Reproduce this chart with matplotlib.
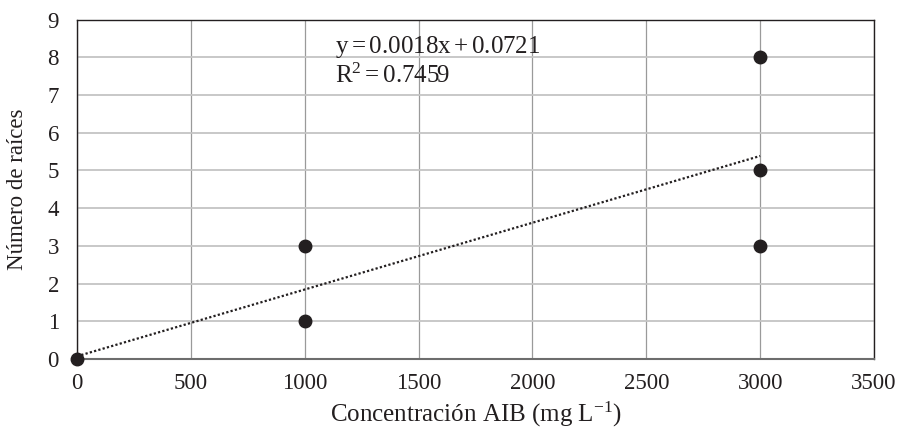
import matplotlib
matplotlib.use("Agg")
import matplotlib.pyplot as plt
import numpy as np

conc = [0, 1000, 1000, 3000, 3000, 3000]
roots = [0, 3, 1, 8, 5, 3]
trend_slope = 0.00177
trend_intercept = 0.0721
trend_x = [0, 3000]
eq_text = r"$\mathrm{y=0.0018x+0.0721}$"
r2_text = r"$\mathrm{R^{2}=0.7459}$"
x_ticks = [0, 500, 1000, 1500, 2000, 2500, 3000, 3500]
y_ticks = list(range(0, 10))

plt.rcParams['font.family'] = ['Liberation Serif', 'DejaVu Serif']
plt.rcParams['mathtext.fontset'] = 'custom'
plt.rcParams['mathtext.rm'] = 'Liberation Serif'
plt.rcParams['mathtext.it'] = 'Liberation Serif:italic'

fig = plt.figure(figsize=(8.97, 4.28), dpi=100)
ax = fig.add_axes([77/897, 1-359/428, (874-77)/897, (359-19.5)/428])

ax.set_xlim(0, 3500)
ax.set_ylim(0, 9)
ax.set_xticks(x_ticks)
ax.set_yticks(y_ticks)
ax.tick_params(length=0, labelsize=16.5, colors='#231f20')
ax.tick_params(axis='x', pad=10)
ax.tick_params(axis='y', pad=13)

ax.xaxis.grid(True, color='#9a9a9a', lw=0.9)
ax.yaxis.grid(True, color='#c4c4c4', lw=1.3)
ax.set_axisbelow(True)
for s in ax.spines.values():
    s.set_color('#231f20')
    s.set_linewidth(1.0)
ax.spines['bottom'].set_color('#6d6d6d')
ax.spines['bottom'].set_linewidth(1.5)

tx = np.array(trend_x, dtype=float)
ax.plot(tx, trend_slope * tx + trend_intercept, ls=(0, (1, 1)), color='#231f20', lw=1.6, zorder=3)
ax.plot(conc, roots, 'o', color='#231f20', ms=9, zorder=4, clip_on=False)

ax.text(335/897, 1-47/428, eq_text, transform=fig.transFigure, fontsize=18,
        color='#231f20', va='center', ha='left')
ax.text(335/897, 1-76/428, r2_text, transform=fig.transFigure, fontsize=18,
        color='#231f20', va='center', ha='left')

ax.set_xlabel("Concentración AIB (mg L$^{-1}$)", fontsize=18, color='#231f20', labelpad=4)
ax.set_ylabel("Número de raíces", fontsize=16.5, color='#231f20', labelpad=14)

fig.savefig("out.png", dpi=100)
